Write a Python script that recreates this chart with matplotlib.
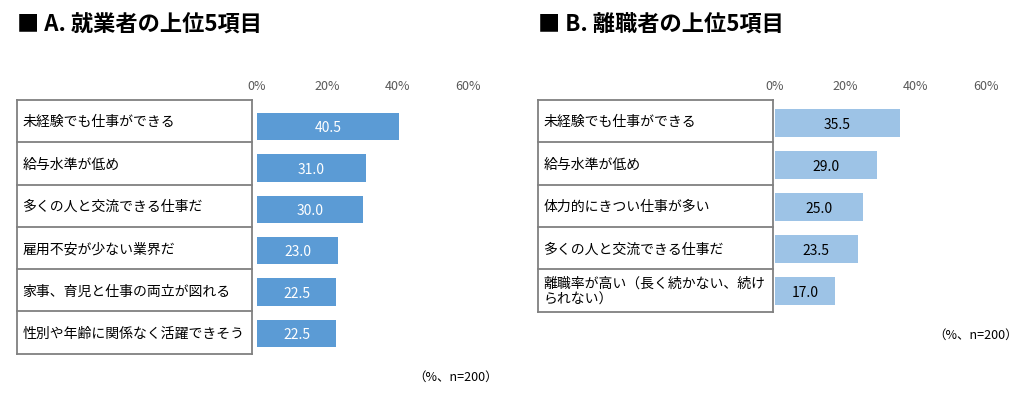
import numpy as np
import matplotlib
matplotlib.use("Agg")
import matplotlib.pyplot as plt

plt.rcParams['font.family'] = ['Noto Sans CJK JP', 'DejaVu Sans']

# data
title_a = "■ A. 就業者の上位5項目"
items_a = ["未経験でも仕事ができる", "給与水準が低め", "多くの人と交流できる仕事だ",
           "雇用不安が少ない業界だ", "家事、育児と仕事の両立が図れる", "性別や年齢に関係なく活躍できそう"]
values_a = [40.5, 31.0, 30.0, 23.0, 22.5, 22.5]

title_b = "■ B. 離職者の上位5項目"
items_b = ["未経験でも仕事ができる", "給与水準が低め", "体力的にきつい仕事が多い",
           "多くの人と交流できる仕事だ", "離職率が高い（長く続かない、続け\nられない）"]
values_b = [35.5, 29.0, 25.0, 23.5, 17.0]

ticks = [0, 20, 40, 60]
note = "（%、n=200）"

W, H = 1024, 398


def px(x0, y0, x1, y1):
    # pixel box -> figure fraction rect
    return [x0 / W, 1 - y1 / H, (x1 - x0) / W, (y1 - y0) / H]


def panel(fig, title, items, values, x0, gap, bar_top, bar_bot, color, txtcolor, note_xy):
    n = len(items)
    row_h = 42.3
    tab_bot = 100 + row_h * n
    fig.text(x0 / W, 1 - 25 / H, title, fontsize=16, fontweight='bold', va='center', ha='left')

    # table of labels
    axt = fig.add_axes(px(x0, 100, x0 + 235, tab_bot))
    axt.set_xlim(0, 1)
    axt.set_ylim(n, 0)
    axt.axis('off')
    for i in range(n + 1):
        axt.plot([0, 1], [i, i], color='#808080', lw=1.3, clip_on=False)
    axt.plot([0, 0], [0, n], color='#808080', lw=1.3, clip_on=False)
    axt.plot([1, 1], [0, n], color='#808080', lw=1.3, clip_on=False)
    for i, s in enumerate(items):
        axt.text(0.022, i + 0.53, s, fontsize=10, va='center', ha='left', linespacing=1.25)

    # bars
    bx0 = x0 + 235 + gap
    axb = fig.add_axes(px(bx0, bar_top, bx0 + 211, bar_bot))
    y = np.arange(n)
    axb.barh(y, values, height=0.66, color=color)
    for yi, v in zip(y, values):
        axb.text(v / 2, yi + 0.04, f"{v:.1f}", color=txtcolor, fontsize=10, ha='center', va='center')
    axb.set_xlim(0, 60)
    axb.set_ylim(n - 0.5, -0.5)
    axb.xaxis.tick_top()
    axb.set_xticks(ticks)
    axb.set_xticklabels([f"{t}%" for t in ticks], color='#595959', fontsize=9)
    axb.tick_params(axis='x', length=0, pad=(bar_top - 93) * 0.72)
    axb.set_yticks([])
    for sp in axb.spines.values():
        sp.set_visible(False)

    fig.text(note_xy[0] / W, 1 - note_xy[1] / H, note, fontsize=9, ha='right', va='center')


fig = plt.figure(figsize=(W / 100, H / 100), dpi=100)
panel(fig, title_a, items_a, values_a, 17, 5, 106, 354, '#5B9BD5', 'white', (498, 377))
panel(fig, title_b, items_b, values_b, 538, 2, 102, 312, '#9DC3E6', 'black', (1018, 335))
fig.savefig("out.png", dpi=100)
